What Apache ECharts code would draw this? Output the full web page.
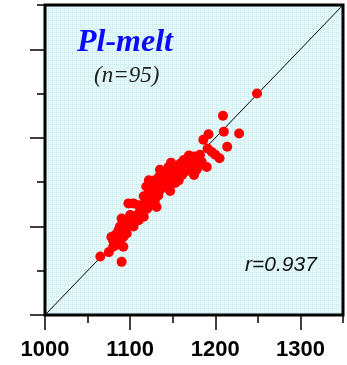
<!DOCTYPE html>
<html>
<head>
<meta charset="utf-8">
<style>
  html, body { margin: 0; padding: 0; background: #ffffff; }
  #chart { width: 347px; height: 365px; }
</style>
<script src="https://cdn.jsdelivr.net/npm/echarts@6/dist/echarts.min.js"></script>
</head>
<body>
<div id="chart"></div>
<script>
// Plagioclase-melt thermometer: calculated vs. experimental temperature (°C)
const plX = [1249,1209,1210,1228,1192,1186,1214,1191,1200,1205,
             1190,1175,1148,1169,1175,1179,1166,1171,1163,1159,
             1154,1157,1149,1146,1147,1135,1134,1122,1119,1126,
             1116,1129,1131,1120,1112,1104,1098,1116,1110,1100,
             1090,1096,1086,1082,1080,1092,1084,1092,1075,1065,
             1090,1176,1182,1171,1165,1161,1151,1143,1139,1141,
             1153,1143,1131,1127,1124,1137,1159,1167,1180,1196,
             1184,1108,1102,1094,1088,1091,1085,1078,1096,1104,
             1114,1126,1133,1135,1118,1122,1155,1163,1173,1178,
             1088,1080,1129,1145,1110];
const plY = [1250,1225,1207,1205,1204,1198,1190,1188,1181,1177,
             1167,1158,1172,1180,1179,1175,1174,1170,1168,1164,
             1161,1152,1155,1148,1140,1164,1156,1152,1145,1137,
             1134,1129,1122,1120,1119,1126,1126,1111,1107,1113,
             1109,1100,1095,1090,1084,1088,1079,1077,1071,1066,
             1060,1171,1181,1166,1162,1158,1167,1160,1152,1145,
             1149,1154,1149,1143,1132,1158,1171,1167,1167,1184,
             1173,1113,1107,1105,1100,1094,1088,1088,1092,1100,
             1117,1126,1135,1141,1128,1139,1156,1175,1175,1164,
             1085,1077,1152,1167,1124];

// 1:1 reference line across the full range
const oneToOne = [[1000, 1000], [1350, 1350]];

const axisMin = 1000;
const axisMax = 1350;
const majorTicks = [1000, 1100, 1200, 1300];
const minorTicks = [1050, 1150, 1250, 1350];

const titleText = 'Pl-melt';
const countText = '(n=95)';
const corrText = 'r=0.937';

// light cyan paper texture for the plot area
function paperPattern() {
  const c = document.createElement('canvas');
  c.width = 4; c.height = 4;
  const g = c.getContext('2d');
  g.fillStyle = '#e3f8f8';
  g.fillRect(0, 0, 4, 4);
  g.fillStyle = '#cbe9ec';
  for (let i = 0; i < 4; i += 2) {
    g.fillRect(i, 0, 1, 1);
    g.fillRect(0, i, 1, 1);
  }
  return { image: c, repeat: 'repeat' };
}

const chart = echarts.init(document.getElementById('chart'), null, { renderer: 'canvas' });

function valueAxis(pos, ticks, len, withLabels) {
  return {
    type: 'value',
    position: pos,
    offset: 0,
    min: axisMin,
    max: axisMax,
    axisLine: { show: false },
    splitLine: { show: false },
    axisTick: {
      show: true,
      inside: false,
      length: len,
      customValues: ticks,
      lineStyle: { color: '#000', width: 1.5 }
    },
    axisLabel: withLabels ? {
      show: true,
      customValues: ticks,
      formatter: (v) => String(v),
      margin: 24,
      color: '#000',
      fontFamily: '"Liberation Sans", Arial, sans-serif',
      fontWeight: 'bold',
      fontSize: 22
    } : { show: false }
  };
}

chart.setOption({
  animation: false,
  backgroundColor: '#ffffff',
  grid: {
    left: 45, right: 4, top: 5, bottom: 50,
    show: true,
    backgroundColor: paperPattern(),
    borderColor: '#000',
    borderWidth: 3
  },
  xAxis: [
    valueAxis('bottom', majorTicks, 15, true),
    valueAxis('bottom', minorTicks, 8, false)
  ],
  yAxis: [
    valueAxis('left', majorTicks, 15, false),
    valueAxis('left', minorTicks, 8, false)
  ],
  graphic: [
    {
      type: 'text', left: 77, top: 27, z: 10,
      style: {
        text: titleText,
        fill: '#0a0aff',
        font: 'italic bold 32px "Liberation Serif", "Times New Roman", serif'
      }
    },
    {
      type: 'text', left: 94, top: 64, z: 10,
      style: {
        text: countText,
        fill: '#222',
        font: 'italic 23px "Liberation Serif", "Times New Roman", serif'
      }
    },
    {
      type: 'text', left: 245, top: 255, z: 10,
      style: {
        text: corrText,
        fill: '#111',
        font: 'italic 21px "Liberation Sans", Arial, sans-serif'
      }
    }
  ],
  series: [
    {
      type: 'line',
      data: oneToOne,
      xAxisIndex: 0, yAxisIndex: 0,
      symbol: 'none',
      lineStyle: { color: '#000', width: 1 },
      z: 2,
      silent: true
    },
    {
      type: 'scatter',
      data: plX.map((x, i) => [x, plY[i]]),
      xAxisIndex: 0, yAxisIndex: 0,
      symbol: 'circle',
      symbolSize: 10,
      itemStyle: { color: '#ff0000', opacity: 1 },
      z: 3
    }
  ]
});
</script>
</body>
</html>
